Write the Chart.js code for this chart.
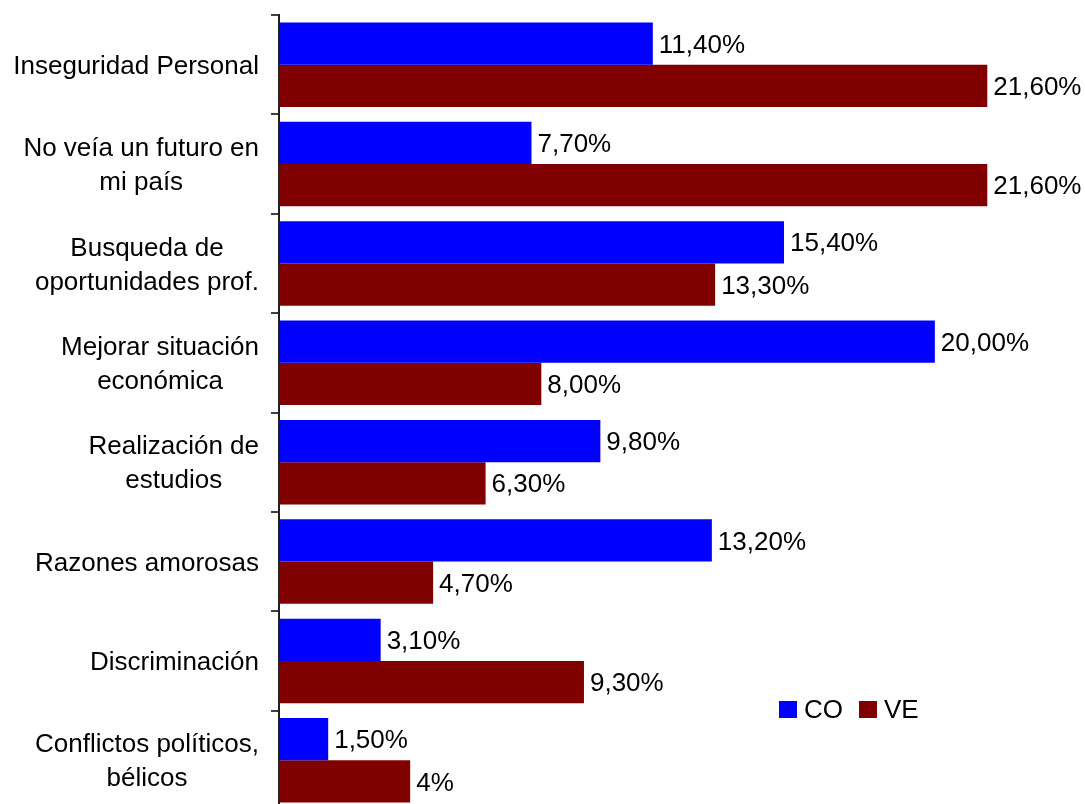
<!DOCTYPE html>
<html>
<head>
<meta charset="utf-8">
<script src="https://cdn.jsdelivr.net/npm/chart.js@4"></script>
<style>
  body { margin: 0; background: #fff; overflow: hidden; }
  #wrap { width: 1085px; height: 804px; position: relative; overflow: hidden; }
</style>
</head>
<body>
<div id="wrap"><canvas id="chart" width="1085" height="810"></canvas></div>
<script>
const categories = [
  ["Inseguridad Personal"],
  ["No veía un futuro en", "mi país"],
  ["Busqueda de", "oportunidades prof."],
  ["Mejorar situación", "económica"],
  ["Realización de", "estudios"],
  ["Razones amorosas"],
  ["Discriminación"],
  ["Conflictos políticos,", "bélicos"]
];
const coValues = [11.4, 7.7, 15.4, 20.0, 9.8, 13.2, 3.1, 1.5];
const veValues = [21.6, 21.6, 13.3, 8.0, 6.3, 4.7, 9.3, 4.0];
const coText = ["11,40%", "7,70%", "15,40%", "20,00%", "9,80%", "13,20%", "3,10%", "1,50%"];
const veText = ["21,60%", "21,60%", "13,30%", "8,00%", "6,30%", "4,70%", "9,30%", "4%"];

const FONT = "26px 'Liberation Sans', Arial, sans-serif";

// category labels: block right aligned, lines centered inside it
const catLabels = {
  id: "catLabels",
  afterDraw(chart) {
    const ctx = chart.ctx;
    const y = chart.scales.y;
    const right = 259;
    const lh = 34;
    ctx.save();
    ctx.font = FONT;
    ctx.fillStyle = "#000";
    ctx.textAlign = "center";
    ctx.textBaseline = "middle";
    categories.forEach((lines, i) => {
      const w = Math.max(...lines.map(l => ctx.measureText(l).width));
      const cx = right - w / 2;
      const cy = y.getPixelForValue(i) + 2;
      lines.forEach((l, k) => {
        ctx.fillText(l, cx, cy + (k - (lines.length - 1) / 2) * lh);
      });
    });
    ctx.restore();
  }
};

// value labels after each bar
const valueLabels = {
  id: "valueLabels",
  afterDatasetsDraw(chart) {
    const ctx = chart.ctx;
    const texts = [coText, veText];
    ctx.save();
    ctx.font = FONT;
    ctx.fillStyle = "#000";
    ctx.textAlign = "left";
    ctx.textBaseline = "middle";
    chart.data.datasets.forEach((ds, d) => {
      chart.getDatasetMeta(d).data.forEach((bar, i) => {
        ctx.fillText(texts[d][i], bar.x + 6, bar.y + 2);
      });
    });
    ctx.restore();
  }
};

// small legend inside the plot, lower right
const boxLegend = {
  id: "boxLegend",
  afterDraw(chart) {
    const ctx = chart.ctx;
    let x = 779;
    const y = 710;
    ctx.save();
    ctx.font = FONT;
    ctx.textBaseline = "middle";
    ctx.textAlign = "left";
    chart.data.datasets.forEach(ds => {
      ctx.fillStyle = ds.backgroundColor;
      ctx.fillRect(x, y - 9, 18, 17);
      ctx.fillStyle = "#000";
      ctx.fillText(ds.label, x + 25, y + 1);
      x += 25 + ctx.measureText(ds.label).width + 16;
    });
    ctx.restore();
  }
};

new Chart(document.getElementById("chart"), {
  type: "bar",
  data: {
    labels: categories.map(c => c.join(" ")),
    datasets: [
      { label: "CO", data: coValues, backgroundColor: "#0000ff" },
      { label: "VE", data: veValues, backgroundColor: "#800000" }
    ]
  },
  options: {
    indexAxis: "y",
    responsive: false,
    animation: false,
    layout: { padding: { top: 15, right: 19, bottom: 0, left: 0 } },
    datasets: { bar: { categoryPercentage: 0.85, barPercentage: 1.0 } },
    plugins: {
      legend: { display: false },
      tooltip: { enabled: false }
    },
    scales: {
      x: { display: false, min: 0, max: 24 },
      y: {
        afterFit(s) { s.width = 279; },
        ticks: { display: false },
        grid: {
          offset: true,
          drawOnChartArea: false,
          drawTicks: true,
          tickLength: 8,
          color: "#404040",
          lineWidth: 2
        },
        border: { display: true, color: "#202020", width: 2 }
      }
    }
  },
  plugins: [catLabels, valueLabels, boxLegend]
});
</script>
</body>
</html>
